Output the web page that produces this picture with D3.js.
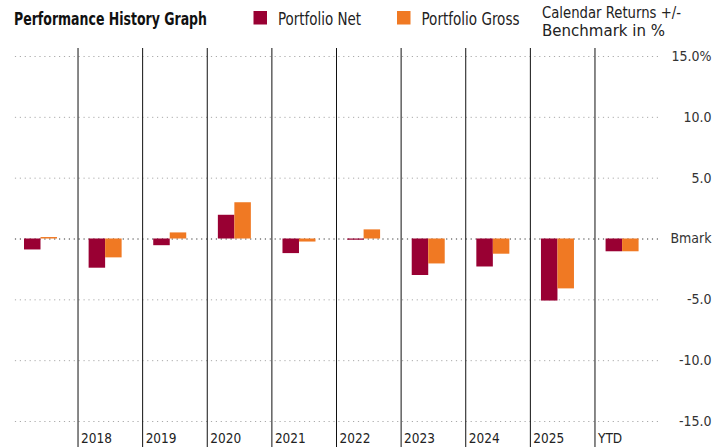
<!DOCTYPE html>
<html>
<head>
<meta charset="utf-8">
<script src="https://cdn.jsdelivr.net/npm/d3@7"></script>
<style>
  body { margin: 0; background: #fff; }
  svg text { font-family: "Liberation Sans Narrow", "DejaVu Sans Condensed", sans-serif; }
</style>
</head>
<body>
<svg id="chart"></svg>
<script>
let width = 727;
let height = 447;

// values (difference to benchmark, in %)
let categories = ["", "2018", "2019", "2020", "2021", "2022", "2023", "2024", "2025", "YTD"];
let netValues = [-0.9, -2.4, -0.55, 1.95, -1.2, -0.1, -3.0, -2.3, -5.1, -1.05];
let grossValues = [0.12, -1.55, 0.5, 2.98, -0.25, 0.75, -2.05, -1.25, -4.1, -1.05];
let yTicks = [15, 10, 5, 0, -5, -10, -15];
let yTickLabels = ["15.0%", "10.0", "5.0", "Bmark", "-5.0", "-10.0", "-15.0"];
let seriesNames = ["Portfolio Net", "Portfolio Gross"];
let colors = { "Portfolio Net": "#990033", "Portfolio Gross": "#f07923" };

let svg = d3.select("#chart")
    .attr("width", width)
    .attr("height", height);

let x = d3.scaleBand()
    .domain(categories)
    .range([13.4, 659.6]);

let y = d3.scaleLinear()
    .domain([-15, 15])
    .range([421, 56]);

// dotted gridlines
let grid = svg.append("g")
    .attr("transform", "translate(658,0)")
    .call(d3.axisLeft(y).tickValues(yTicks).tickSize(645).tickFormat(""));
grid.select(".domain").remove();
grid.selectAll(".tick line")
    .attr("stroke", function (d) { return d === 0 ? "#333" : "#aaa"; })
    .attr("stroke-width", 1)
    .attr("stroke-dasharray", "1.2,3.7");

// y labels on the right
let yAxis = svg.append("g")
    .attr("transform", "translate(711.5,0)")
    .call(d3.axisRight(y).tickValues(yTicks).tickSize(0)
        .tickFormat(function (d, i) { return yTickLabels[i]; }));
yAxis.select(".domain").remove();
yAxis.selectAll("text")
    .attr("x", 0)
    .attr("text-anchor", "end")
    .attr("fill", "#333")
    .style("font-size", "14px");

// separators between years
svg.append("g")
    .selectAll("line")
    .data(categories.slice(1))
    .enter().append("line")
    .attr("x1", function (d) { return x(d); })
    .attr("x2", function (d) { return x(d); })
    .attr("y1", 48)
    .attr("y2", height)
    .attr("stroke", "#111")
    .attr("stroke-width", 1);

// year labels
svg.append("g")
    .selectAll("text")
    .data(categories)
    .enter().append("text")
    .attr("x", function (d) { return x(d) + 3; })
    .attr("y", 443)
    .attr("fill", "#222")
    .style("font-size", "13.5px")
    .text(function (d) { return d; });

// bars
let barW = 16.5;
let bars = svg.append("g");
categories.forEach(function (cat, i) {
    let vals = [netValues[i], grossValues[i]];
    vals.forEach(function (v, j) {
        bars.append("rect")
            .attr("x", x(cat) + 10.6 + j * barW)
            .attr("y", y(Math.max(0, v)))
            .attr("width", barW)
            .attr("height", Math.max(1, Math.abs(y(v) - y(0))))
            .attr("fill", colors[seriesNames[j]]);
    });
});

// title
svg.append("text")
    .attr("x", 14)
    .attr("y", 25)
    .attr("fill", "#111")
    .style("font-size", "18px")
    .style("font-weight", "bold")
    .attr("textLength", 193)
    .attr("lengthAdjust", "spacingAndGlyphs")
    .text("Performance History Graph");

// legend
let legendX = [253.5, 397];
let legendW = [83, 98];
seriesNames.forEach(function (name, i) {
    svg.append("rect")
        .attr("x", legendX[i])
        .attr("y", 11)
        .attr("width", 13.5)
        .attr("height", 13.5)
        .attr("fill", colors[name]);
    svg.append("text")
        .attr("x", legendX[i] + 24.5)
        .attr("y", 25)
        .attr("fill", "#222")
        .style("font-size", "18px")
        .attr("textLength", legendW[i])
        .attr("lengthAdjust", "spacingAndGlyphs")
        .text(name);
});

svg.append("text")
    .attr("x", 542).attr("y", 18)
    .attr("fill", "#222")
    .style("font-size", "15.5px")
    .attr("textLength", 139).attr("lengthAdjust", "spacingAndGlyphs")
    .text("Calendar Returns +/-");
svg.append("text")
    .attr("x", 542).attr("y", 36)
    .attr("fill", "#222")
    .style("font-size", "15.5px")
    .attr("textLength", 123).attr("lengthAdjust", "spacingAndGlyphs")
    .text("Benchmark in %");
</script>
</body>
</html>
